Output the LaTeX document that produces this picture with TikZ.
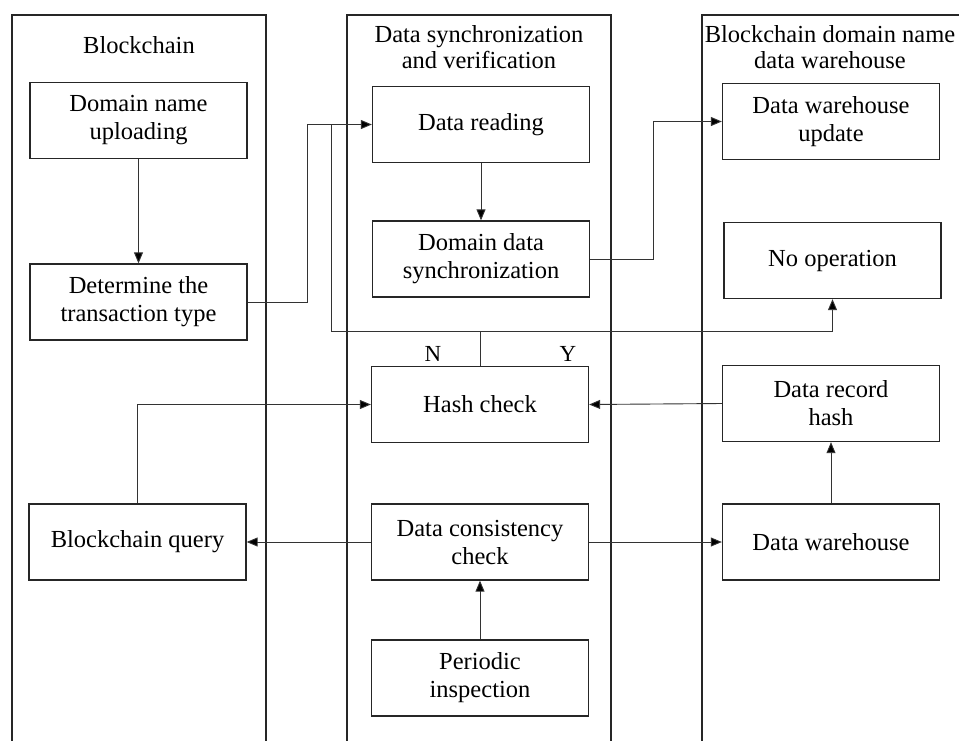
\documentclass[tikz,border=0pt]{standalone}
\usepackage{fontspec}
\setmainfont{Liberation Serif}
\usetikzlibrary{arrows.meta}
\begin{document}
\begin{tikzpicture}[x=1pt,y=-1pt,
  lane/.style={line width=1.2pt,black!85},
  box/.style={draw=black!85,line width=1.3pt,minimum width=217pt,minimum height=76pt,
    align=center,inner sep=0pt,font=\fontsize{24.5}{28}\selectfont},
  ttl/.style={align=center,inner sep=0pt,font=\fontsize{24.5}{26.5}\selectfont},
  lbl/.style={inner sep=0pt,font=\fontsize{23}{26}\selectfont},
  conn/.style={line width=0.9pt,black!80},
  arr/.style={conn,-{Triangle[length=11pt,width=9pt,fill=black]}}]
\useasboundingbox (0,0) rectangle (959,740);
% swimlanes
\draw[lane] (12,741) -- (12,15) -- (266,15) -- (266,741);
\draw[lane] (347,741) -- (347,15) -- (611,15) -- (611,741);
\draw[lane] (702,741) -- (702,15) -- (960,15);
% lane titles
\node[ttl] (t1) at (139,45) {Blockchain};
\node[ttl] (t2) at (479,47) {Data synchronization\\and verification};
\node[ttl] (t3) at (830,47) {Blockchain domain name\\data warehouse};
% boxes
\node[box] (upload) at (138.5,120.5) {Domain name\\uploading};
\node[box] (determine) at (138.5,302) {Determine the\\transaction type};
\node[box] (query) at (137.5,542) {Blockchain query};
\node[box] (reading) at (481,124.5) {Data reading};
\node[box] (sync) at (481,259) {Domain data\\synchronization};
\node[box] (hash) at (480,404.5) {Hash check};
\node[box] (consist) at (480,542) {Data consistency\\check};
\node[box] (periodic) at (480,678) {Periodic\\inspection};
\node[box] (whupdate) at (831,121.5) {Data warehouse\\update};
\node[box] (noop) at (832.5,260.5) {No operation};
\node[box] (record) at (831,403.5) {Data record\\hash};
\node[box] (warehouse) at (831,542) {Data warehouse};
% labels
\node[lbl] (n) at (433,354) {N};
\node[lbl] (y) at (568,354) {Y};
% connectors
\draw[arr] (upload) -- (determine);
\draw[arr] (determine.east) -- ++(60,0) |- (reading.west);
\coordinate (j1) at (331,124.5);
\coordinate (nb) at (331,331);
\draw[arr] (j1) -- (nb) -| (noop.south);
\draw[conn] (hash.north) -- (hash.north |- nb);
\draw[arr] (reading) -- (sync);
\draw[arr] (sync.east) -- ++(63,0) |- (whupdate.west);
\draw[arr] (record.west) -- (hash.east);
\draw[arr] (query.north) |- (hash.west);
\draw[arr] (consist.west) -- (query.east);
\draw[arr] (consist.east) -- (warehouse.west);
\draw[arr] (warehouse) -- (record);
\draw[arr] (periodic) -- (consist);
\end{tikzpicture}
\end{document}
